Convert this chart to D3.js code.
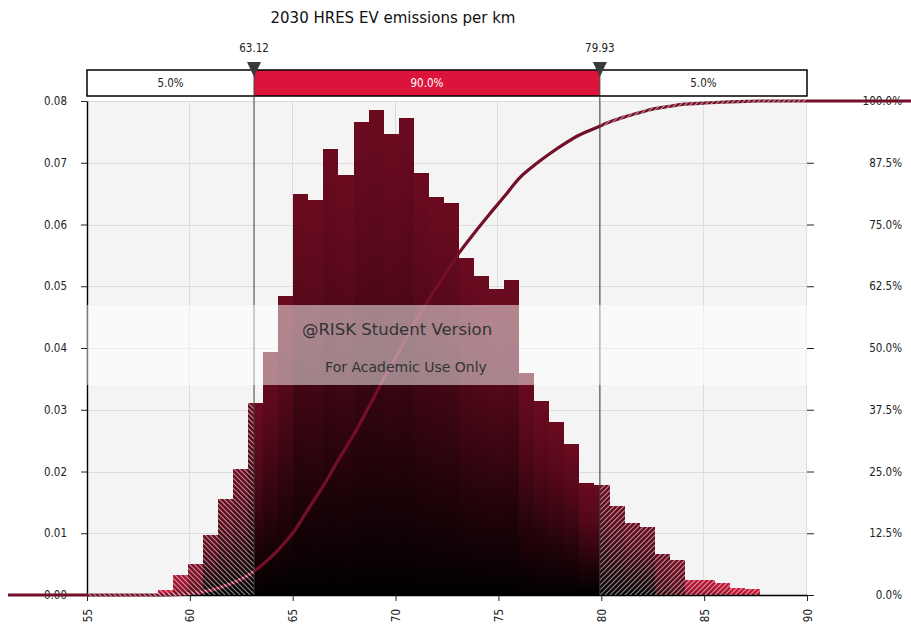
<!DOCTYPE html>
<html>
<head>
<meta charset="utf-8">
<script src="https://cdn.jsdelivr.net/npm/d3@7"></script>
<style>
  body { margin: 0; background: #fff; }
  svg text { font-family: "DejaVu Sans Condensed", "DejaVu Sans", sans-serif; fill: #222; }
</style>
</head>
<body>
<div id="chart"></div>
<script>
// histogram (density per bin)
const binStart = 58.44;
const binWidth = 0.732;
const density = [
  0.0008, 0.0032, 0.0050, 0.0097, 0.0155, 0.0204, 0.0311, 0.0394, 0.0484,
  0.0650, 0.0640, 0.0722, 0.0680, 0.0766, 0.0785, 0.0747, 0.0773, 0.0684,
  0.0645, 0.0635, 0.0546, 0.0517, 0.0496, 0.0510, 0.0360, 0.0314, 0.0280,
  0.0245, 0.0181, 0.0178, 0.0144, 0.0117, 0.0110, 0.0066, 0.0057, 0.0024,
  0.0024, 0.0019, 0.0012, 0.0010
];
const lowCut = 63.12;
const highCut = 79.93;
const bandLabels = ["5.0%", "90.0%", "5.0%"];
const xTicks = [55, 60, 65, 70, 75, 80, 85, 90];
const yTicks = [0, 0.01, 0.02, 0.03, 0.04, 0.05, 0.06, 0.07, 0.08];
const pctTicks = [0, 0.125, 0.25, 0.375, 0.5, 0.625, 0.75, 0.875, 1];
const cdfReach = [51.16, 95.06]; // the cumulative line runs past the plot

const width = 911, height = 624;
const plotL = 87, plotR = 807, plotT = 101, plotB = 595;

const svg = d3.select("#chart").append("svg")
    .attr("width", width)
    .attr("height", height);

const x = d3.scaleLinear().domain([55, 90]).range([plotL, plotR]);
const y = d3.scaleLinear().domain([0, 0.08]).range([plotB, plotT]);
const yPct = d3.scaleLinear().domain([0, 1]).range([plotB, plotT]);

const defs = svg.append("defs");

// hatch patterns for the tails
function hatch(id, d) {
    defs.append("pattern")
        .attr("id", id)
        .attr("patternUnits", "userSpaceOnUse")
        .attr("width", 5).attr("height", 5)
        .append("path")
        .attr("d", d)
        .attr("stroke", "#fff")
        .attr("stroke-opacity", 0.55)
        .attr("stroke-width", 1.1);
}
hatch("hatchL", "M-1,4 l2,2 M0,0 l5,5 M4,-1 l2,2");
hatch("hatchR", "M-1,1 l2,-2 M0,5 l5,-5 M4,6 l2,-2");

defs.append("clipPath").attr("id", "clipL").append("rect")
    .attr("x", plotL).attr("y", plotT - 5)
    .attr("width", x(lowCut) - plotL).attr("height", plotB - plotT + 10);
defs.append("clipPath").attr("id", "clipR").append("rect")
    .attr("x", x(highCut)).attr("y", plotT - 5)
    .attr("width", plotR - x(highCut)).attr("height", plotB - plotT + 10);

const bins = density.map((v, i) => ({
    x0: binStart + i * binWidth,
    x1: binStart + (i + 1) * binWidth,
    v: v
}));

// per bar shading: short bars stay bright, tall bars fade to black
const clamp = t => Math.max(0, Math.min(1, t));
bins.forEach((b, i) => {
    const h = y(0) - y(b.v);
    const topCol = d3.interpolateRgb("#d41b3f", "#6c0b20")(clamp((h - 8) / 30));
    const botCol = d3.interpolateRgb("#a8132f", "#000")(clamp((h - 8) / 50));
    const g = defs.append("linearGradient")
        .attr("id", "bar" + i)
        .attr("x1", 0).attr("y1", 0).attr("x2", 0).attr("y2", 1);
    g.append("stop").attr("offset", 0).attr("stop-color", topCol);
    g.append("stop").attr("offset", 0.35).attr("stop-color", d3.interpolateRgb(topCol, botCol)(0.25));
    g.append("stop").attr("offset", 1).attr("stop-color", botCol);
});

// background + grid
svg.append("rect")
    .attr("x", plotL).attr("y", plotT)
    .attr("width", plotR - plotL).attr("height", plotB - plotT)
    .attr("fill", "#f4f4f4");

const grid = svg.append("g").attr("stroke", "#dcdcdc").attr("stroke-width", 1);
grid.selectAll(".gx").data(xTicks.slice(1)).enter().append("line")
    .attr("x1", d => Math.round(x(d)) - 0.5).attr("x2", d => Math.round(x(d)) - 0.5)
    .attr("y1", plotT).attr("y2", plotB);
grid.selectAll(".gy").data(yTicks.slice(1)).enter().append("line")
    .attr("x1", plotL).attr("x2", plotR)
    .attr("y1", d => Math.round(y(d)) + 0.5).attr("y2", d => Math.round(y(d)) + 0.5);

// bars
const barG = svg.append("g").attr("shape-rendering", "crispEdges");
barG.selectAll("rect").data(bins).enter().append("rect")
    .attr("x", d => x(d.x0))
    .attr("y", d => y(d.v))
    .attr("width", d => x(d.x1) - x(d.x0))
    .attr("height", d => y(0) - y(d.v))
    .attr("fill", (d, i) => `url(#bar${i})`);

// axes
const axL = svg.append("g")
    .attr("transform", `translate(${plotL},0)`)
    .call(d3.axisLeft(y).tickValues(yTicks).tickFormat(d3.format(".2f"))
        .tickSize(6).tickSizeOuter(0).tickPadding(14));
const axB = svg.append("g")
    .attr("transform", `translate(0,${plotB})`)
    .call(d3.axisBottom(x).tickValues(xTicks).tickFormat(d3.format("d"))
        .tickSize(6).tickSizeOuter(0));
axB.selectAll("text")
    .attr("transform", "rotate(-90)")
    .attr("text-anchor", "end")
    .attr("x", -14)
    .attr("y", 0)
    .attr("dy", "0.35em");
const axR = svg.append("g")
    .attr("transform", `translate(${plotR},0)`)
    .call(d3.axisRight(yPct).tickValues(pctTicks).tickFormat(d3.format(".1%"))
        .tickSize(7).tickSizeOuter(0));
axR.select(".domain").remove();
axR.selectAll("text").attr("text-anchor", "end").attr("x", 95);

[axL, axB, axR].forEach(a => {
    a.selectAll("text").style("font-size", "11.5px").attr("fill", "#222")
        .style("font-family", "'DejaVu Sans Condensed', 'DejaVu Sans', sans-serif");
    a.selectAll("line").attr("stroke", "#222");
    a.select(".domain").attr("stroke", "#000").attr("stroke-width", 1.4);
});

// cumulative line, built from the histogram
const total = d3.sum(density);
const cum = Array.from(d3.cumsum(density), c => c / total);
const cdfPts = [[cdfReach[0], 0], [binStart, 0]]
    .concat(bins.map((b, i) => [b.x1, cum[i]]))
    .concat([[cdfReach[1], 1]]);

const line = d3.line()
    .x(d => x(d[0]))
    .y(d => yPct(d[1]))
    .curve(d3.curveMonotoneX);

svg.append("path")
    .datum(cdfPts)
    .attr("d", line)
    .attr("fill", "none")
    .attr("stroke", "#730f27")
    .attr("stroke-width", 3.2);

// hatch over the tails (bars and line)
[["clipL", "hatchL"], ["clipR", "hatchR"]].forEach(([clip, pat]) => {
    const g = svg.append("g").attr("clip-path", `url(#${clip})`);
    g.selectAll("rect").data(bins).enter().append("rect")
        .attr("shape-rendering", "crispEdges")
        .attr("x", d => x(d.x0))
        .attr("y", d => y(d.v))
        .attr("width", d => x(d.x1) - x(d.x0))
        .attr("height", d => y(0) - y(d.v))
        .attr("fill", `url(#${pat})`);
    g.append("path")
        .datum(cdfPts)
        .attr("d", line)
        .attr("fill", "none")
        .attr("stroke", `url(#${pat})`)
        .attr("stroke-width", 3.2);
});

// percentile band on top
const bandTop = 70, bandH = 26;
const cuts = [55, lowCut, highCut, 90];
const band = svg.append("g");
band.selectAll("rect").data(bandLabels).enter().append("rect")
    .attr("x", (d, i) => x(cuts[i]))
    .attr("y", bandTop)
    .attr("width", (d, i) => x(cuts[i + 1]) - x(cuts[i]))
    .attr("height", bandH)
    .attr("fill", (d, i) => i === 1 ? "#dc143c" : "#fff");
band.selectAll("text").data(bandLabels).enter().append("text")
    .attr("x", (d, i) => (x(cuts[i]) + x(cuts[i + 1])) / 2)
    .attr("y", bandTop + bandH / 2 + 4)
    .attr("text-anchor", "middle")
    .style("font-size", "11.5px")
    .style("fill", (d, i) => i === 1 ? "#fff" : "#222")
    .text(d => d);
band.append("rect")
    .attr("x", plotL).attr("y", bandTop)
    .attr("width", plotR - plotL).attr("height", bandH)
    .attr("fill", "none")
    .attr("stroke", "#000")
    .attr("stroke-width", 1.5);

// cut markers
const marks = svg.append("g").selectAll("g").data([lowCut, highCut]).enter().append("g")
    .attr("transform", d => `translate(${x(d)},0)`);
marks.append("line")
    .attr("y1", 64).attr("y2", plotB)
    .attr("stroke", "#3a3a3a").attr("stroke-width", 1);
marks.append("path")
    .attr("d", "M-7,62 L7,62 L0,77 Z")
    .attr("fill", "#3a3a3a");
marks.append("text")
    .attr("y", 52)
    .attr("text-anchor", "middle")
    .style("font-size", "11.5px")
    .text(d => d.toFixed(2));

// title
svg.append("text")
    .attr("x", 393).attr("y", 23)
    .attr("text-anchor", "middle")
    .style("font-family", "'DejaVu Sans', sans-serif")
    .style("font-size", "15px")
    .style("fill", "#111")
    .text("2030 HRES EV emissions per km");

// student watermark
svg.append("rect")
    .attr("x", plotL).attr("y", 305)
    .attr("width", plotR - plotL).attr("height", 80)
    .attr("fill", "#fff").attr("fill-opacity", 0.5);
svg.append("text")
    .attr("x", 397).attr("y", 335)
    .attr("text-anchor", "middle")
    .style("font-family", "'DejaVu Sans', sans-serif")
    .style("font-size", "16.5px")
    .style("fill", "#333")
    .text("@RISK Student Version");
svg.append("text")
    .attr("x", 406).attr("y", 372)
    .attr("text-anchor", "middle")
    .style("font-family", "'DejaVu Sans', sans-serif")
    .style("font-size", "14px")
    .style("fill", "#333")
    .text("For Academic Use Only");
</script>
</body>
</html>
